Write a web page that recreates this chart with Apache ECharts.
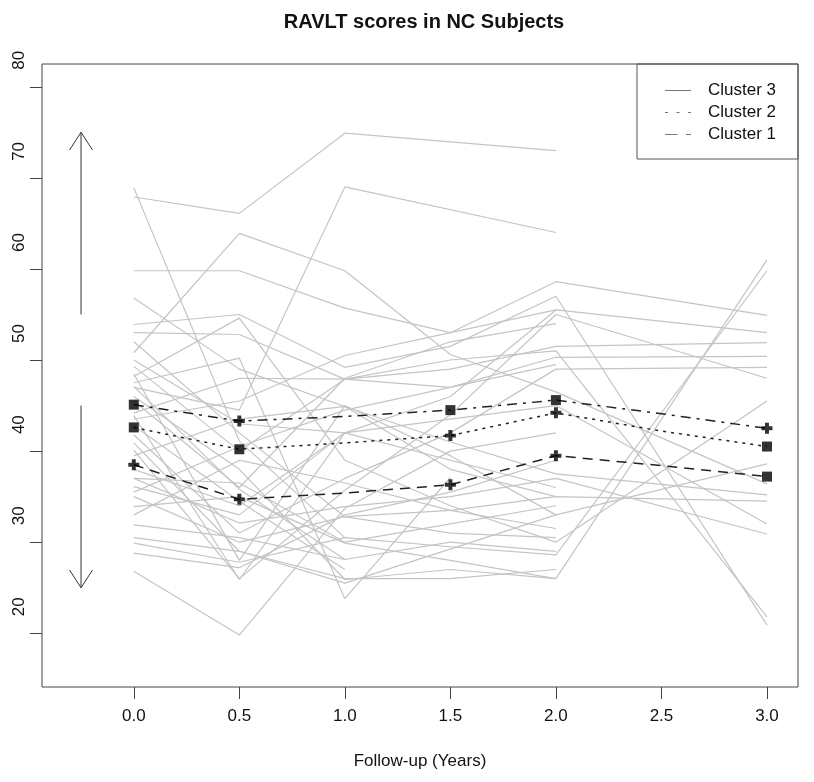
<!DOCTYPE html>
<html>
<head>
<meta charset="utf-8">
<script src="https://cdn.jsdelivr.net/npm/echarts@6/dist/echarts.min.js"></script>
<style>html,body{margin:0;padding:0;background:#fff}#c{width:814px;height:782px}</style>
</head>
<body>
<div id="c"></div>
<script>
// ---- data ----
const titleText = 'RAVLT scores in NC Subjects';
const xAxisTitle = 'Follow-up (Years)';
const xTicks = [0, 0.5, 1.0, 1.5, 2.0, 2.5, 3.0];
const yTicks = [20, 30, 40, 50, 60, 70, 80];

// observation times for each subject (null = not observed)
const subjectTimes = [0, 0.5, 1.0, 1.5, 2.0, 3.0];
const subject01 = [67.9, 66.1, 74.9, null, 73.0, null];
const subject02 = [68.9, 41.1, 30.5, null, null, null];
const subject03 = [50.8, 63.9, 59.8, 50.6, 46.5, 36.4];
const subject04 = [47.0, 44.5, 69.0, null, 64.0, null];
const subject05 = [59.8, 59.8, 55.7, 53.0, 58.6, 54.9];
const subject06 = [56.8, 49.0, 44.9, 41.0, 37.5, 35.2];
const subject07 = [53.9, 55.0, 49.2, 51.5, 57.0, 20.9];
const subject08 = [53.0, 52.8, 47.9, 50.0, 51.0, 21.8];
const subject09 = [50.0, 43.0, 42.0, 46.0, 55.5, 53.0];
const subject10 = [49.3, 40.0, 47.9, 49.0, 51.5, 51.9];
const subject11 = [48.2, 54.6, 39.0, 34.0, 30.0, 45.5];
const subject12 = [47.1, 35.8, 28.1, null, null, null];
const subject13 = [44.2, 48.0, 47.9, 47.0, 50.3, 50.4];
const subject14 = [41.8, 31.0, 37.0, 42.0, 49.0, 49.2];
const subject15 = [40.9, 29.0, 25.5, null, 33.0, 38.6];
const subject16 = [40.1, 26.0, 35.7, 44.0, 55.0, 48.0];
const subject17 = [37.0, 32.1, 33.9, 35.0, 37.0, 30.9];
const subject18 = [36.1, 33.0, 42.0, 43.5, 45.0, 32.0];
const subject19 = [35.0, 30.0, 32.8, 33.5, 35.0, 34.5];
const subject20 = [33.9, 35.0, 29.9, 28.0, 26.0, 61.0];
const subject21 = [31.9, 30.5, 28.1, 30.0, 29.0, null];
const subject22 = [29.9, 27.8, 30.5, 29.5, 28.6, 59.8];
const subject23 = [28.8, 27.2, 33.0, 35.5, 39.0, null];
const subject24 = [26.8, 19.8, 33.7, 40.0, 42.0, null];
const subject25 = [45.5, 36.0, 48.0, 52.0, 54.0, null];
const subject26 = [43.5, 45.5, 50.5, 53.0, 55.5, null];
const subject27 = [39.5, 43.5, 44.9, 38.0, 35.0, null];
const subject28 = [38.0, 34.0, 42.0, null, 36.0, null];
const subject29 = [52.0, 42.0, 32.8, 31.0, 30.5, null];
const subject30 = [46.0, 38.0, 25.9, 27.0, 26.0, null];
const subject31 = [42.8, 34.5, 27.0, null, null, null];
const subject32 = [43.9, 25.9, 42.0, null, null, null];
const subject33 = [35.5, 40.5, 44.5, 47.0, 49.5, null];
const subject34 = [48.5, 28.0, 45.0, 39.5, 33.0, null];
const subject35 = [33.0, 39.0, 36.5, 33.5, 31.5, null];
const subject36 = [30.5, 29.0, 26.0, 26.0, 27.0, null];
const subject37 = [47.5, 50.2, 23.8, 37.1, null, null];
const subject38 = [37.0, 36.5, 30.0, 32.0, 34.0, null];

// cluster mean curves
const meanTimes = [0, 0.5, 1.0, 1.5, 2.0, 2.5, 3.0];
const cluster1Mean = [45.1, 43.3, 43.8, 44.5, 45.6, 44.1, 42.5];
const cluster2Mean = [42.6, 40.2, 40.9, 41.7, 44.2, 42.2, 40.5];
const cluster3Mean = [38.5, 34.7, 35.4, 36.3, 39.5, 38.4, 37.2];

// observed mean markers
const markerTimes = [0, 0.5, 1.5, 2.0, 3.0];
const cluster1Points = [45.1, 43.3, 44.5, 45.6, 42.5];
const cluster1Shapes = ['square', 'plus', 'square', 'square', 'plus'];
const cluster2Points = [42.6, 40.2, 41.7, 44.2, 40.5];
const cluster2Shapes = ['square', 'square', 'plus', 'plus', 'square'];
const cluster3Points = [38.5, 34.7, 36.3, 39.5, 37.2];
const cluster3Shapes = ['plus', 'plus', 'plus', 'plus', 'square'];

// annotations
const annotationX = -0.25;
const annotationText = [[80, 'Better'], [20, 'Worse']];
const arrowRanges = [[55, 75], [45, 25]];

const legendNames = ['Cluster 3', 'Cluster 2', 'Cluster 1'];

// ---- build ----
const subjects = [subject01, subject02, subject03, subject04, subject05, subject06, subject07, subject08,
  subject09, subject10, subject11, subject12, subject13, subject14, subject15, subject16, subject17,
  subject18, subject19, subject20, subject21, subject22, subject23, subject24, subject25, subject26,
  subject27, subject28, subject29, subject30, subject31, subject32, subject33, subject34, subject35,
  subject36, subject37, subject38];

const PLUS = 'path://M3.2,0h3.6v3.2h3.2v3.6h-3.2v3.2h-3.6v-3.2h-3.2v-3.6h3.2z';
const FONT = '"Liberation Sans", Arial, sans-serif';

const series = [];
subjects.forEach(function (vals, i) {
  const d = [];
  vals.forEach(function (v, k) { if (v !== null) d.push([subjectTimes[k], v]); });
  series.push({
    type: 'line', name: 's' + i, data: d, symbol: 'none', silent: true,
    lineStyle: { color: '#c4c4c4', width: 1.2 }, z: 1
  });
});

function meanSeries(name, vals, dash) {
  return {
    type: 'line', name: name, data: meanTimes.map(function (t, k) { return [t, vals[k]]; }),
    symbol: 'none', silent: true, z: 3,
    lineStyle: { color: '#222', width: 1.5, type: dash },
    itemStyle: { color: '#666' }
  };
}
series.push(meanSeries('Cluster 1', cluster1Mean, [10, 6, 3, 6]));
series.push(meanSeries('Cluster 2', cluster2Mean, [3, 5]));
series.push(meanSeries('Cluster 3', cluster3Mean, [10, 7]));

function markerSeries(vals, shapes) {
  return {
    type: 'scatter', silent: true, z: 5,
    data: markerTimes.map(function (t, k) {
      return { value: [t, vals[k]], symbol: shapes[k] === 'square' ? 'rect' : PLUS,
               symbolSize: shapes[k] === 'square' ? 10 : 11 };
    }),
    itemStyle: { color: '#000' }
  };
}
series.push(markerSeries(cluster1Points, cluster1Shapes));
series.push(markerSeries(cluster2Points, cluster2Shapes));
series.push(markerSeries(cluster3Points, cluster3Shapes));

series.push({
  type: 'scatter', silent: true, symbolSize: 1, itemStyle: { opacity: 0 },
  data: annotationText.map(function (a) { return [annotationX, a[0], a[1]]; }),
  label: { show: true, position: 'inside', formatter: function (p) { return p.data[2]; },
           fontSize: 17, color: '#111', fontFamily: FONT }
});

series.push({
  type: 'custom', silent: true, z: 4,
  data: arrowRanges.map(function (r) { return [annotationX, r[0], r[1]]; }),
  encode: { x: 0, y: [1, 2] },
  renderItem: function (params, api) {
    const p0 = api.coord([api.value(0), api.value(1)]);
    const p1 = api.coord([api.value(0), api.value(2)]);
    const dir = p1[1] < p0[1] ? -1 : 1;
    const L = 21, a = 33 * Math.PI / 180;
    const hx = L * Math.sin(a), hy = L * Math.cos(a);
    const st = { stroke: '#333', lineWidth: 1, fill: null };
    return {
      type: 'group', children: [
        { type: 'line', shape: { x1: p0[0], y1: p0[1], x2: p1[0], y2: p1[1] }, style: st },
        { type: 'polyline', shape: { points: [[p1[0] - hx, p1[1] - dir * hy], [p1[0], p1[1]], [p1[0] + hx, p1[1] - dir * hy]] }, style: st }
      ]
    };
  }
});

const chart = echarts.init(document.getElementById('c'), null, { renderer: 'canvas' });
chart.setOption({
  animation: false,
  backgroundColor: '#fff',
  title: {
    text: titleText, left: 419, top: 7, textAlign: 'center',
    textStyle: { fontFamily: FONT, fontWeight: 'bold', fontSize: 20, color: '#111' }
  },
  legend: {
    orient: 'vertical', left: 637, top: 64, selectedMode: false,
    borderColor: '#555', borderWidth: 1, borderRadius: 0,
    padding: [18, 22, 16, 28], itemGap: 5, itemWidth: 26, itemHeight: 1.5,
    textStyle: { fontFamily: FONT, fontSize: 17, color: '#111', padding: [0, 0, 0, 12] },
    data: [
      { name: 'Cluster 3', icon: 'path://M0,0h25v1h-25z', itemStyle: { color: '#777' } },
      { name: 'Cluster 2', icon: 'path://M0,0h3v1h-3zM11,0h3v1h-3zM22,0h3v1h-3z', itemStyle: { color: '#777' } },
      { name: 'Cluster 1', icon: 'path://M0,0h12v1h-12zM20,0h5v1h-5z', itemStyle: { color: '#777' } }
    ]
  },
  grid: {
    left: 42, top: 64, right: 16, bottom: 95, show: true,
    borderColor: '#444', borderWidth: 1, backgroundColor: 'transparent'
  },
  xAxis: {
    type: 'value', min: -0.435, max: 3.147,
    name: xAxisTitle, nameLocation: 'middle', nameGap: 66,
    nameTextStyle: { fontFamily: FONT, fontSize: 17, color: '#111' },
    axisLine: { show: false, onZero: false }, splitLine: { show: false },
    axisTick: { show: true, customValues: xTicks, length: 12, lineStyle: { color: '#444' } },
    axisLabel: { customValues: xTicks, margin: 21, fontSize: 17, color: '#111', fontFamily: FONT,
                 formatter: function (v) { return v.toFixed(1); } }
  },
  yAxis: {
    type: 'value', min: 14.1, max: 82.5,
    axisLine: { show: false, onZero: false }, splitLine: { show: false },
    axisTick: { show: true, customValues: yTicks, length: 12, lineStyle: { color: '#444' } },
    axisLabel: { customValues: yTicks, rotate: 90, align: 'left', padding: [0, 0, 0, 17],
                 margin: 14, fontSize: 17, color: '#111', fontFamily: FONT }
  },
  series: series
});
</script>
</body>
</html>
